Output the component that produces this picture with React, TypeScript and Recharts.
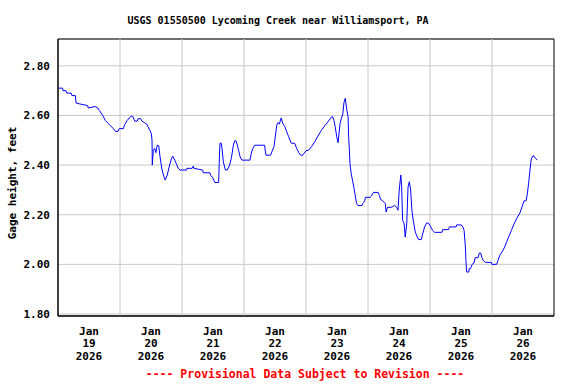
import React from "react";
import {
  LineChart,
  Line,
  XAxis,
  YAxis,
  CartesianGrid,
  ReferenceLine,
  ReferenceArea,
} from "recharts";

// gage height readings, [hour of day, feet], one array per day
const jan19 = [
  [0.2, 2.71], [1.8, 2.71], [1.9, 2.7], [3.1, 2.7], [3.4, 2.69], [5.1, 2.69], [5.4, 2.68],
  [6.7, 2.68], [7.0, 2.65], [9.0, 2.645], [11.5, 2.64], [11.7, 2.63], [14.4, 2.636], [15.4, 2.63],
  [16.0, 2.62], [17.3, 2.6], [18.3, 2.58], [19.9, 2.563], [21.4, 2.547], [22.2, 2.536],
  [23.2, 2.536], [23.7, 2.547],
];
const jan20 = [
  [1.3, 2.547], [1.8, 2.563], [2.8, 2.58], [3.6, 2.59], [4.6, 2.598], [5.0, 2.595], [5.7, 2.577],
  [6.7, 2.577], [7.0, 2.587], [8.0, 2.587], [8.5, 2.577], [9.6, 2.57], [10.3, 2.566], [10.8, 2.555],
  [11.6, 2.539], [12.1, 2.528], [12.4, 2.5], [12.5, 2.4], [12.9, 2.46], [13.4, 2.467], [13.9, 2.45],
  [14.4, 2.48], [15.0, 2.478], [15.5, 2.433], [16.3, 2.38], [17.0, 2.353], [17.5, 2.34],
  [18.3, 2.36], [19.1, 2.396], [19.9, 2.425], [20.4, 2.436], [21.2, 2.42], [22.5, 2.388],
  [23.2, 2.38],
];
const jan21 = [
  [1.8, 2.38], [1.9, 2.387], [3.9, 2.387], [4.4, 2.396], [4.6, 2.387], [6.5, 2.383], [8.0, 2.38],
  [8.2, 2.369], [10.8, 2.369], [11.1, 2.358], [11.9, 2.35], [12.4, 2.337], [12.7, 2.33],
  [14.2, 2.33], [14.4, 2.407], [14.7, 2.488], [15.2, 2.488], [15.5, 2.467], [16.0, 2.413],
  [16.8, 2.38], [17.5, 2.38], [18.3, 2.396], [19.1, 2.427], [19.9, 2.481], [20.4, 2.498],
  [20.9, 2.498], [21.4, 2.481], [21.9, 2.46], [22.5, 2.433], [23.2, 2.42],
];
const jan22 = [
  [2.3, 2.42], [2.8, 2.447], [3.4, 2.467], [4.1, 2.48], [8.0, 2.48], [8.2, 2.46], [8.5, 2.44],
  [10.3, 2.44], [10.8, 2.454], [11.6, 2.474], [12.1, 2.514], [12.7, 2.562], [13.2, 2.571],
  [13.7, 2.565], [14.2, 2.585], [14.4, 2.59], [15.0, 2.568], [15.8, 2.555], [16.5, 2.535],
  [17.3, 2.514], [18.3, 2.488], [19.6, 2.488], [20.4, 2.467], [21.2, 2.45], [21.9, 2.44],
  [22.7, 2.44], [23.2, 2.447],
];
const jan23 = [
  [0.0, 2.458], [1.0, 2.46], [2.1, 2.474], [3.4, 2.494], [4.6, 2.517], [5.9, 2.539], [7.2, 2.558],
  [8.5, 2.574], [9.8, 2.593], [10.3, 2.595], [10.8, 2.58], [11.3, 2.555], [11.9, 2.514],
  [12.4, 2.49], [13.2, 2.568], [13.7, 2.589], [14.2, 2.602], [14.7, 2.652], [15.2, 2.669],
  [15.8, 2.622], [16.3, 2.595], [16.5, 2.514], [16.8, 2.46], [17.0, 2.407], [17.5, 2.366],
  [18.1, 2.333], [18.6, 2.306], [19.1, 2.275], [19.6, 2.245], [20.1, 2.237], [21.7, 2.237],
  [21.9, 2.245], [22.7, 2.255], [23.0, 2.27],
];
const jan24 = [
  [0.8, 2.27], [1.3, 2.275], [2.1, 2.29], [3.9, 2.29], [4.4, 2.278], [4.9, 2.261], [5.7, 2.256],
  [6.7, 2.245], [7.0, 2.211], [7.5, 2.229], [9.3, 2.231], [10.3, 2.238], [11.1, 2.23],
  [11.6, 2.218], [12.1, 2.3], [12.7, 2.36], [13.0, 2.319], [13.4, 2.178], [14.0, 2.164],
  [14.4, 2.11], [15.0, 2.164], [15.5, 2.312], [16.0, 2.333], [16.5, 2.3], [17.0, 2.218],
  [17.5, 2.178], [18.3, 2.13], [19.1, 2.11], [19.6, 2.1], [20.6, 2.1], [21.2, 2.124],
  [21.9, 2.151], [22.7, 2.167], [23.5, 2.165],
];
const jan25 = [
  [0.3, 2.151], [1.0, 2.137], [1.8, 2.129], [4.6, 2.129], [4.9, 2.14], [7.2, 2.14], [7.5, 2.151],
  [10.1, 2.151], [10.3, 2.159], [12.1, 2.159], [12.7, 2.151], [13.2, 2.137], [13.4, 2.11],
  [13.7, 2.07], [13.9, 2.016], [14.2, 1.969], [15.0, 1.969], [15.2, 1.983], [15.7, 1.983],
  [16.3, 2.0], [17.0, 2.005], [17.5, 2.027], [18.6, 2.027], [19.1, 2.046], [19.6, 2.046],
  [20.1, 2.027], [20.6, 2.016], [21.4, 2.008], [23.7, 2.008],
];
const jan26 = [
  [0.0, 2.0], [1.8, 2.0], [2.3, 2.016], [3.1, 2.038], [4.1, 2.054], [4.9, 2.07], [5.7, 2.092],
  [6.7, 2.116], [7.5, 2.137], [8.5, 2.162], [9.6, 2.186], [10.8, 2.207], [11.6, 2.231],
  [12.4, 2.256], [13.2, 2.256], [13.7, 2.286], [14.2, 2.329], [14.7, 2.38], [15.2, 2.425],
  [16.0, 2.439], [16.8, 2.428], [17.5, 2.42],
];

const days = [jan19, jan20, jan21, jan22, jan23, jan24, jan25, jan26];
const dayLabels = ["19", "20", "21", "22", "23", "24", "25", "26"];
const yTicks = [1.8, 2.0, 2.2, 2.4, 2.6, 2.8];

const data = days.flatMap((d, i) => d.map(([h, v]) => ({ h: i * 24 + h, v })));
const labelTicks = dayLabels.map((_, i) => i * 24 + 12);
const midnights = dayLabels.slice(1).map((_, i) => (i + 1) * 24);

const FONT = "'DejaVu Sans Mono', monospace";

const DateTick = (props: any) => {
  const { x, y, index } = props;
  return (
    <text x={x} y={y} textAnchor="middle" fontFamily={FONT} fontWeight="bold" fontSize={11} fill="#000">
      <tspan x={x} dy={10.5}>Jan</tspan>
      <tspan x={x} dy={12.8}>{dayLabels[index]}</tspan>
      <tspan x={x} dy={12.8}>2026</tspan>
    </text>
  );
};

export default function App() {
  return (
    <div style={{ position: "absolute", left: 0, top: 0, width: 576, height: 384, background: "#fff" }}>
      <LineChart width={576} height={384} data={data} margin={{ top: 39, right: 22, bottom: 38, left: 0 }}>
        <CartesianGrid vertical={false} stroke="#c8c8c8" />
        {midnights.map((m) => (
          <ReferenceLine key={m} x={m} stroke="#c8c8c8" />
        ))}
        <XAxis
          type="number"
          dataKey="h"
          height={30}
          domain={[0, 192]}
          ticks={labelTicks}
          tickLine={false}
          axisLine={{ stroke: "#000" }}
          tick={<DateTick />}
          interval={0}
          allowDataOverflow
        />
        <YAxis
          type="number"
          width={58}
          domain={[1.792, 2.908]}
          ticks={yTicks}
          tickLine={false}
          axisLine={{ stroke: "#000" }}
          tickFormatter={(v: number) => v.toFixed(2)}
          tick={{ fontFamily: FONT, fontWeight: "bold", fontSize: 11, fill: "#000" }}
          interval={0}
          allowDataOverflow
        />
        <ReferenceArea x1={0} x2={192} y1={1.792} y2={2.908} fill="none" stroke="#000" strokeOpacity={1} />
        <Line
          type="linear"
          dataKey="v"
          stroke="#0000ff"
          strokeWidth={1}
          dot={false}
          isAnimationActive={false}
        />
      </LineChart>
      <svg width={576} height={384} style={{ position: "absolute", left: 0, top: 0, pointerEvents: "none" }}>
        <text x={278} y={24} textAnchor="middle" fontFamily={FONT} fontWeight="bold" fontSize={10} fill="#000">
          USGS 01550500 Lycoming Creek near Williamsport, PA
        </text>
        <text
          transform="translate(15.5,183) rotate(-90)"
          textAnchor="middle"
          fontFamily={FONT}
          fontWeight="bold"
          fontSize={11}
          fill="#000"
        >
          Gage height, feet
        </text>
        <text x={305} y={378} textAnchor="middle" fontFamily={FONT} fontWeight="bold" fontSize={11.5} fill="#ff0000">
          ---- Provisional Data Subject to Revision ----
        </text>
      </svg>
    </div>
  );
}
